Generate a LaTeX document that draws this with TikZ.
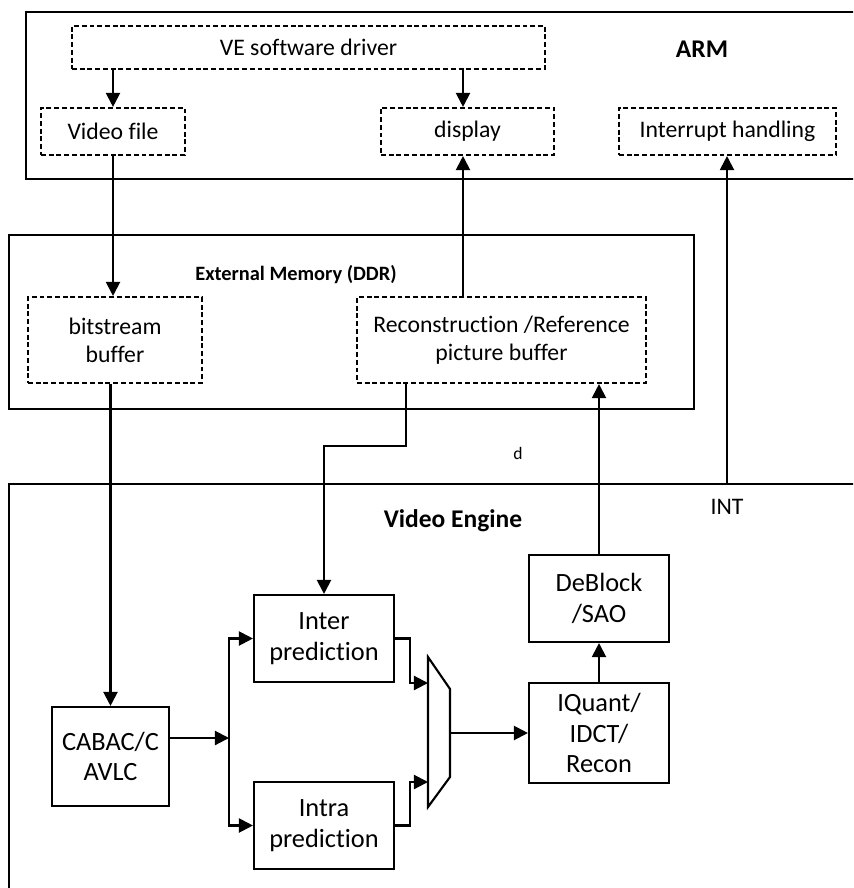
\documentclass[tikz,border=0pt]{standalone}
\usepackage{fontspec}
\setmainfont{Carlito}[Ligatures=NoCommon]
\usetikzlibrary{arrows.meta}

\begin{document}
\begin{tikzpicture}[
        every node/.style={font=\fontsize{13.5}{16}\selectfont},
        frame/.style={
            draw,
            line width=1.2pt
        },
        swbox/.style={
            draw,
            line width=1.2pt,
            dash pattern=on 2.8pt off 1.6pt,
            minimum height=0.94cm,
            align=center
        },
        block/.style={
            draw,
            line width=1.2pt,
            minimum width=2.8cm,
            align=center,
            font=\fontsize{15}{17.5}\selectfont
        },
        title/.style={font=\bfseries\fontsize{14.5}{17}\selectfont},
        arrow/.style={-{Triangle[length=8pt,width=8pt]}, line width=1.2pt}
    ]

    \useasboundingbox (0,0) rectangle (17.06,-17.76);
    \clip (0,0) rectangle (17.06,-17.76);

    % ARM
    \node[frame, minimum width=17.08cm, minimum height=3.34cm] (arm) at (9.06,-1.91) {};
    \node[title] (armlbl) at (14.04,-0.98) {ARM};
    \node[swbox, minimum width=9.46cm, minimum height=0.86cm] (drv) at (6.17,-0.95) {VE software driver};
    \node[swbox, minimum width=2.88cm] (vfile) at (2.26,-2.63) {Video file};
    \node[swbox, minimum width=3.46cm] (disp) at (9.35,-2.63) {display};
    \node[swbox, minimum width=4.34cm] (intr) at (14.55,-2.63) {Interrupt handling};

    % External memory
    \node[frame, minimum width=13.7cm, minimum height=3.48cm] (ddr) at (7.03,-6.44) {};
    \node[title, font=\bfseries\fontsize{11.6}{14}\selectfont] (ddrlbl) at (5.92,-5.5) {External Memory (DDR)};
    \node[swbox, minimum width=3.48cm, minimum height=1.72cm] (bsbuf) at (2.3,-6.8) {bitstream\\buffer};
    \node[swbox, minimum width=5.78cm, minimum height=1.72cm] (recbuf) at (10.03,-6.8) {Reconstruction /Reference\\picture buffer};

    % Video engine
    \node[frame, minimum width=17.82cm, minimum height=8.72cm] (ve) at (9.09,-14.04) {};
    \node[title] (velbl) at (9.06,-10.42) {Video Engine};
    \node[block, minimum width=2.34cm, minimum height=1.98cm] (cabac) at (2.21,-15.13) {CABAC/C\\AVLC};
    \node[block, minimum height=1.74cm] (inter) at (6.48,-12.77) {Inter\\prediction};
    \node[block, minimum height=1.74cm] (intra) at (6.48,-16.51) {Intra\\prediction};
    \node[block, minimum height=1.74cm] (dbk) at (11.98,-11.97) {DeBlock\\/SAO};
    \node[block, minimum height=2.0cm] (iq) at (11.98,-14.66) {IQuant/\\IDCT/\\Recon};

    % Selector
    \draw[line width=1.2pt] (8.56,-13.14) -- (9.0,-13.78) -- (9.0,-15.54) -- (8.56,-16.14) -- cycle;
    \coordinate (muxa) at (8.56,-13.66);
    \coordinate (muxb) at (8.56,-15.64);
    \coordinate (muxo) at (9.0,-14.66);

    % Labels between the frames
    \coordinate (int) at (14.54,-9.68);
    \node (intlbl) at (14.54,-10.14) {INT};
    \node[font=\fontsize{10}{12}\selectfont] (dlbl) at (10.36,-9.06) {d};

    % ARM paths
    \draw[arrow] (vfile.north |- drv.south) -- (vfile.north);
    \draw[arrow] (9.26,0 |- drv.south) -- (9.26,0 |- disp.north);

    % Memory paths
    \draw[arrow] (vfile.south) -- (vfile.south |- bsbuf.north);
    \draw[arrow] (9.26,0 |- recbuf.north) -- (9.26,0 |- disp.south);
    \draw[arrow] (cabac.north |- bsbuf.south) -- (cabac.north);
    \draw[arrow] (8.12,0 |- recbuf.south) -- (8.12,-8.92) -| (inter.north);
    \draw[arrow] (dbk.north) -- (dbk.north |- recbuf.south);
    \draw[arrow] (int) -- (int |- intr.south);

    % Decoding pipeline
    \coordinate (split) at (4.58,-14.76);
    \draw[arrow] (cabac.east |- split) -- (split);
    \draw[arrow] (split) |- (inter.west);
    \draw[arrow] (split) |- (intra.west);
    \draw[arrow] (inter.east) -- ++(0.3,0) |- (muxa);
    \draw[arrow] (intra.east) -- ++(0.3,0) |- (muxb);
    \draw[arrow] (muxo) -- (iq.west);
    \draw[arrow] (iq.north) -- (dbk.south);

\end{tikzpicture}
\end{document}
